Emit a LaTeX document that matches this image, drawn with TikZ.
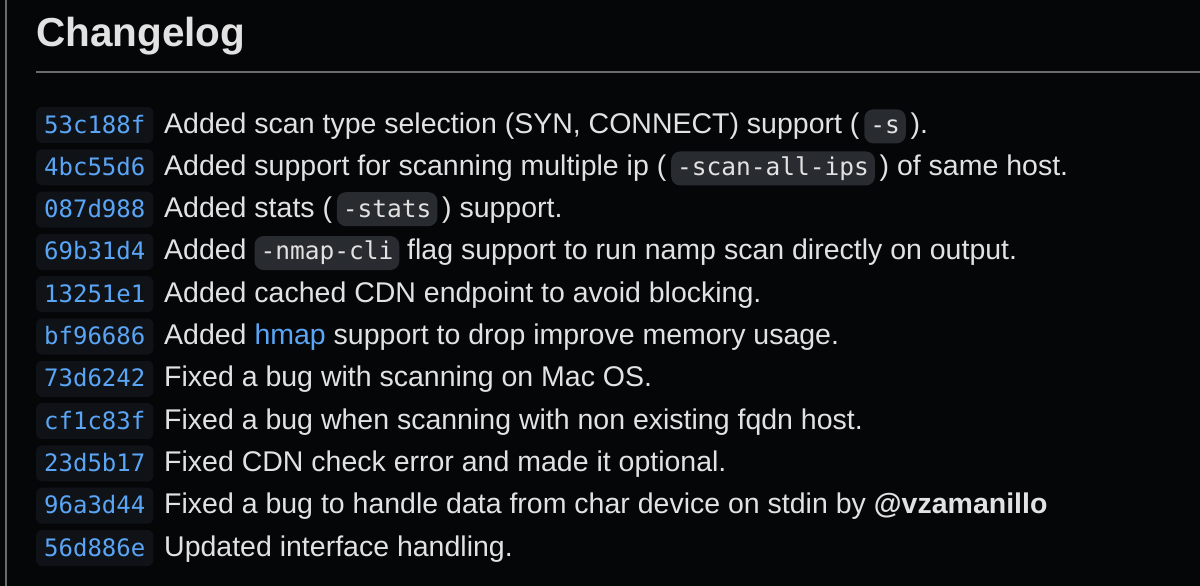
\documentclass[tikz,border=0pt]{standalone}
\usepackage{fontspec}
\setmainfont{Liberation Sans}
\newfontfamily\mono{DejaVu Sans Mono}
\definecolor{bgc}{HTML}{050608}
\definecolor{txt}{HTML}{E2E2E2}
\definecolor{hashc}{HTML}{5AA5F5}
\definecolor{hashbg}{HTML}{0F1318}
\definecolor{codebg}{HTML}{282B30}
\definecolor{rulec}{HTML}{6A6A6A}
\newcommand\cde[1]{\tikz[baseline=(c.base)]\node[fill=codebg,rounded corners=9pt,inner xsep=6pt,inner ysep=0pt,minimum height=34pt](c){\mono\fontsize{24.5}{26}\selectfont #1};}
\tikzset{
 hash/.style={anchor=base west,fill=hashbg,rounded corners=6pt,text=hashc,font=\mono\fontsize{24}{26}\selectfont,inner xsep=8pt,inner ysep=0pt,text depth=10pt,text height=26pt},
 msg/.style={anchor=base west,text=txt,font=\fontsize{28.5}{30}\selectfont,inner sep=0pt}
}
\begin{document}
\begin{tikzpicture}[x=1pt,y=-1pt]
\fill[bgc] (0,0) rectangle (1200,586);
\useasboundingbox (0,0) rectangle (1200,586);
\draw[rulec,line width=2.5pt] (6,0) coordinate (lt) -- (6,586) coordinate (lb);
\node[anchor=base west,text=txt,font=\bfseries\fontsize{40.5}{44}\selectfont,inner sep=0pt] (title) at (36,47) {Changelog};
\draw[rulec,line width=1.2pt] (36,72) coordinate (ra) -- (1200,72) coordinate (rb);
\foreach \i/\h/\m in {
 0/53c188f/{Added scan type selection (SYN, CONNECT) support (\,\cde{-s}\,).},
 1/4bc55d6/{Added support for scanning multiple ip (\,\cde{-scan-all-ips}\,) of same host.},
 2/087d988/{Added stats (\,\cde{-stats}\,) support.},
 3/69b31d4/{Added \cde{-nmap-cli} flag support to run namp scan directly on output.},
 4/13251e1/{Added cached CDN endpoint to avoid blocking.},
 5/bf96686/{Added \textcolor{hashc}{hmap} support to drop improve memory usage.},
 6/73d6242/{Fixed a bug with scanning on Mac OS.},
 7/cf1c83f/{Fixed a bug when scanning with non existing fqdn host.},
 8/23d5b17/{Fixed CDN check error and made it optional.},
 9/96a3d44/{Fixed a bug to handle data from char device on stdin by \textbf{@vzamanillo}},
 10/56d886e/{Updated interface handling.}}{
 \node[hash] (h\i) at (36,133+42.3*\i) {\h};
 \node[msg] (m\i) at (164,133+42.3*\i) {\m};
}
\end{tikzpicture}
\end{document}
